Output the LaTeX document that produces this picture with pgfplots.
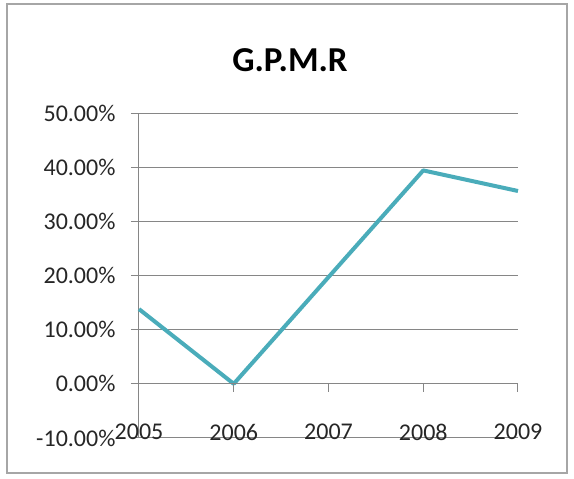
\documentclass[border=0pt]{standalone}
\usepackage{pgfplots}
\pgfplotsset{compat=1.18}
\usepackage{fontspec}
\setmainfont{Carlito}
\definecolor{teal1}{RGB}{74,172,186}
\definecolor{gridg}{RGB}{134,134,134}
\begin{document}
\begin{tikzpicture}[x=1pt,y=1pt]
\useasboundingbox (0,0) rectangle (574,479);
\draw[gray!70, line width=1.2pt] (7,6) rectangle (567,475);
\node[font=\fontsize{35}{40}\selectfont\bfseries] at (290,419) {G.P.M.R};
\begin{axis}[
  at={(139pt,41pt)}, anchor=south west,
  scale only axis, width=379pt, height=325pt,
  xmin=0, xmax=4, ymin=-10, ymax=50,
  axis x line=none,
  axis y line*=left,
  y axis line style={gridg, line width=1pt, -},
  ytick={-10,0,10,20,30,40,50},
  yticklabels={-10.00\%,0.00\%,10.00\%,20.00\%,30.00\%,40.00\%,50.00\%},
  ymajorgrids, grid style={gridg, line width=1pt},
  major tick length=8pt,
  ytick style={gridg, line width=1pt},
  tick align=outside,
  yticklabel style={font=\fontsize{24}{28}\selectfont, text=black!85, xshift=-12pt},
  /pgf/number format/assume math mode=true,
  clip=false,
]
\addplot[teal1, line width=4pt, line join=round] coordinates {(0,13.8) (1,0) (2,19.7) (3,39.4) (4,35.6)};
\draw[gridg, line width=1pt] (axis cs:0,0) -- (axis cs:4,0);
\pgfplotsinvokeforeach{0,1,2,3,4}{
  \draw[gridg, line width=1pt] (axis cs:#1,0) -- ([yshift=-8pt]axis cs:#1,0);
}
\node[font=\fontsize{24}{28}\selectfont, text=black!85, yshift=6pt] at (axis cs:0,-10) {2005};
\node[font=\fontsize{24}{28}\selectfont, text=black!85, yshift=6pt] at (axis cs:1,-10) {2006};
\node[font=\fontsize{24}{28}\selectfont, text=black!85, yshift=6pt] at (axis cs:2,-10) {2007};
\node[font=\fontsize{24}{28}\selectfont, text=black!85, yshift=6pt] at (axis cs:3,-10) {2008};
\node[font=\fontsize{24}{28}\selectfont, text=black!85, yshift=6pt] at (axis cs:4,-10) {2009};
\end{axis}
\end{tikzpicture}
\end{document}
